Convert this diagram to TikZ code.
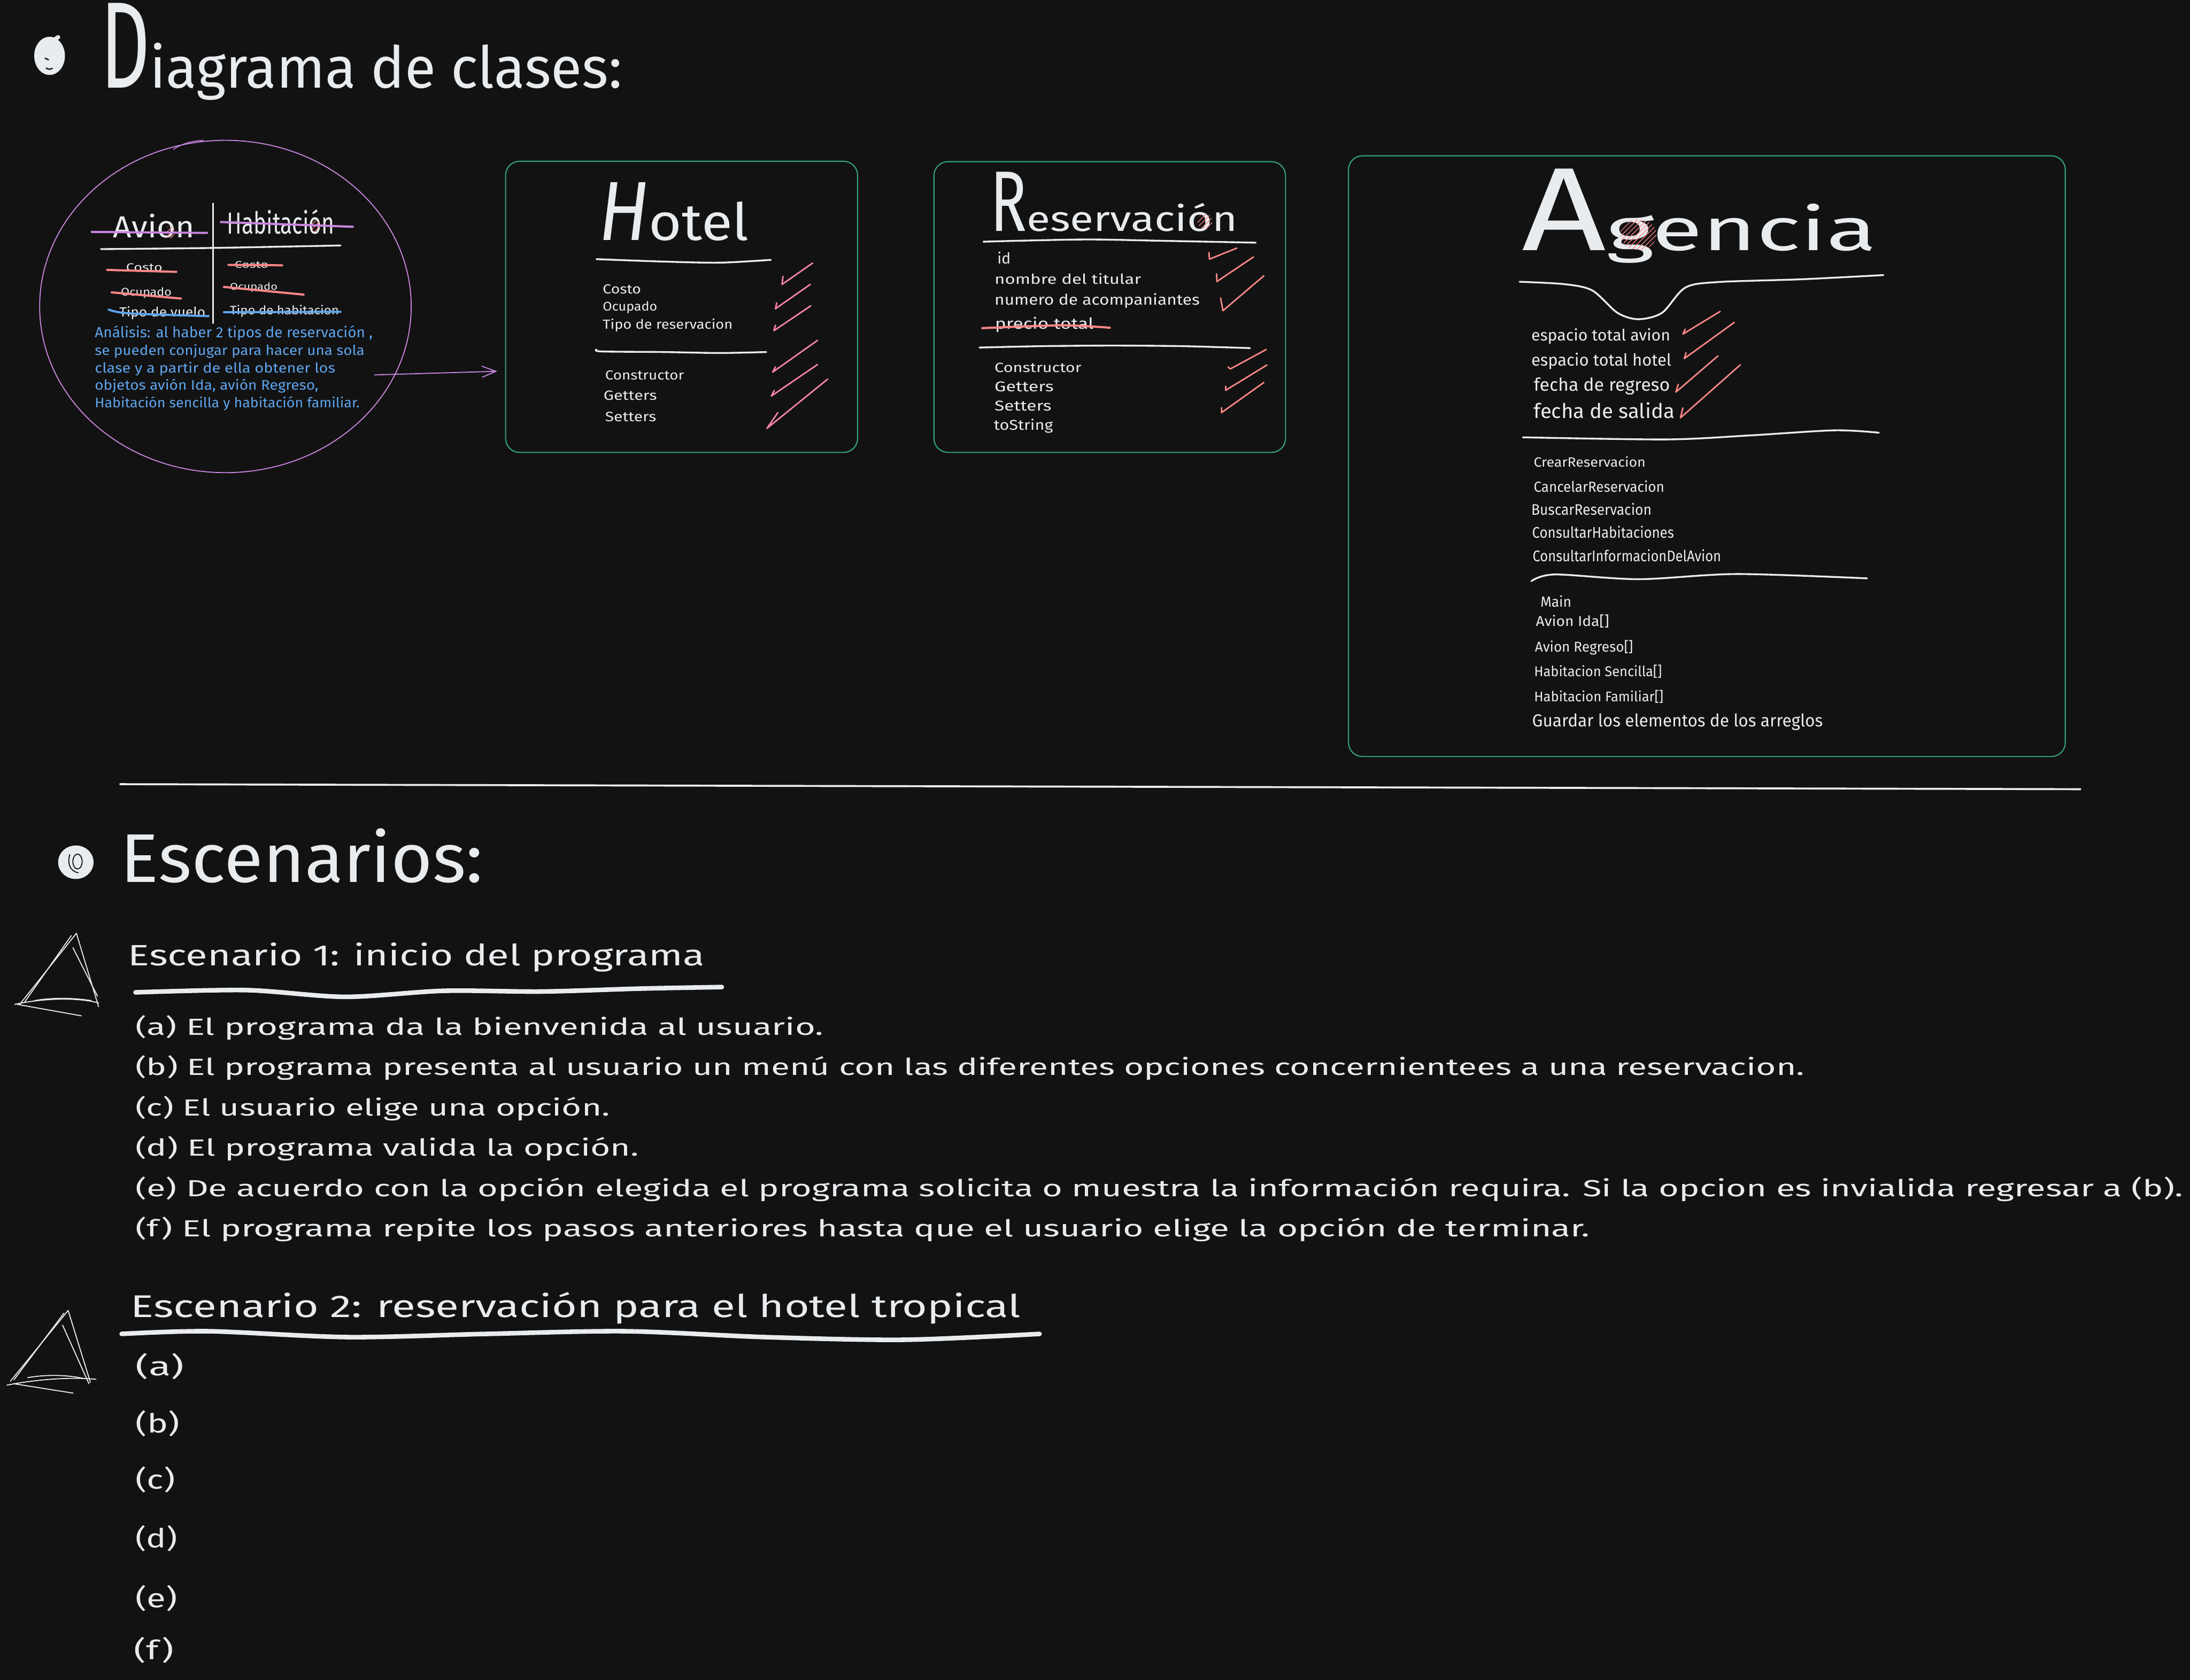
\documentclass[tikz,border=0pt]{standalone}
\usepackage{fontspec}
\setmainfont{Fira Sans}
\usetikzlibrary{shapes.geometric,arrows.meta,patterns}
\definecolor{bg}{HTML}{121212}
\definecolor{fg}{HTML}{E9ECEF}
\definecolor{purp}{HTML}{C986E0}
\definecolor{pinkc}{HTML}{F783AC}
\definecolor{redc}{HTML}{FF8787}
\definecolor{bluec}{HTML}{5EA5EE}
\definecolor{greenc}{HTML}{33A07A}
\newlength\myu
\setlength\myu{0.03cm}
\newcommand{\fitx}[3]{\resizebox{#1\myu}{#2\myu}{\smash{#3}\vphantom{H}}}
\newcommand{\tn}[6]{\node[tx,#1] (#2) at (#3) {\fitx{#4}{#5}{#6}};}
\begin{document}
\begin{tikzpicture}[x=0.03cm,y=-0.03cm,
  tx/.style={anchor=base west,inner sep=0pt,outer sep=0pt,text=fg},
  blu/.style={text=bluec},
  bx/.style={draw=greenc,line width=0.7pt,rounded corners=0.3cm,inner sep=0pt},
  wl/.style={draw=fg,line width=1.1pt,line cap=round,line join=round},
  thk/.style={draw=fg,line width=2.8pt,line cap=round,line join=round},
  tri/.style={draw=fg,line width=0.6pt,line cap=round,line join=round},
  chkp/.style={draw=pinkc,line width=0.9pt,line cap=round,line join=round},
  chkr/.style={draw=redc,line width=0.9pt,line cap=round,line join=round},
  strk/.style={line width=1.3pt,line cap=round},
  hatch/.style={pattern=north east lines,pattern color=redc}]
\fill[bg] (0,0) rectangle (1568,1203);
\useasboundingbox (0,0) rectangle (1568,1203);

% ---------- title ----------
\fill[fg] (35.5,40) ellipse (0.33cm and 0.41cm);
\draw[fg,line width=2.5pt,line cap=round] (33,32) -- (41.7,26.6);
\draw[bg,line width=0.8pt,line cap=round] (32.3,41.7) -- (34.7,42.8);
\draw[bg,line width=0.8pt,line cap=round] (33.1,48.8) .. controls (35,49.8) .. (37.4,49);
\tn{}{title}{72.2,62.9}{373.1}{28.5}{\scalebox{1.35}[2.13]{D}iagrama de clases:}

% ---------- circle ----------
\node[draw=purp,line width=0.6pt,ellipse,minimum width=7.98cm,minimum height=7.14cm,inner sep=0pt] (circ) at (161.4,219.5) {};
\draw[purp,line width=0.5pt] (124,107) .. controls (132,102) and (138,101) .. (146,100.5);
\draw[wl,line width=0.8pt] (152.6,145.6) -- (152.6,231.5);
\draw[wl] plot[smooth] coordinates {(72.3,178.4) (150,177.6) (243.8,175.8)};
\tn{}{avion}{81.1,170}{58.3}{15}{Avion}
\tn{}{habit}{162.5,167.6}{76.9}{15}{Habitación}
\tn{}{cl1}{90.3,194.4}{26}{5.5}{Costo}
\tn{}{cr1}{168,192.1}{24.1}{4.8}{Costo}
\tn{}{cl2}{86.6,211.8}{36.3}{5.5}{Ocupado}
\tn{}{cr2}{164.7,207.8}{34}{4.8}{Ocupado}
\tn{}{cl3}{85.5,226.8}{61.6}{6.5}{Tipo de vuelo}
\tn{}{cr3}{164.7,225.2}{78}{6}{Tipo de habitacion}
\fill[hatch] (121.8,166.1) ellipse (0.1cm and 0.14cm);
\fill[hatch] (226.2,162.1) ellipse (0.1cm and 0.14cm);
\draw[purp,strk] (65.7,166.1) -- (148.2,166.8);
\draw[purp,strk] (158.1,159) -- (252.6,162.4);
\draw[redc,strk] (76.7,193.3) -- (126.2,194.7);
\draw[redc,strk] (163.6,189.7) -- (202,190);
\draw[redc,strk] (80,209.4) -- (129.5,213.8);
\draw[redc,strk] (160.3,205.5) -- (217.4,211);
\draw[bluec,strk] plot[smooth] coordinates {(77.8,221.7) (92.1,224.4) (149.3,226.4)};
\draw[bluec,strk] (160.3,223.6) -- (243.8,223.3);
\tn{blu}{p1}{67.9,241.7}{199}{7.3}{Análisis: al haber 2 tipos de reservación ,}
\tn{blu}{p2}{67.9,254.3}{193.1}{6.8}{se pueden conjugar para hacer una sola}
\tn{blu}{p3}{67.9,267}{172.2}{6.8}{clase y a partir de ella obtener los}
\tn{blu}{p4}{67.9,279.1}{160.1}{6.8}{objetos avión Ida, avión Regreso,}
\tn{blu}{p5}{67.9,291.7}{189.6}{6.8}{Habitación sencilla y habitación familiar.}
\coordinate (arS) at (268,268.5);
\coordinate (arE) at (356,265.9);
\draw[purp,line width=0.6pt,-{Straight Barb[length=0.3cm,width=0.24cm]}] (arS) -- (arE);

% ---------- Hotel ----------
\node[bx,minimum width=7.56cm,minimum height=6.255cm] (hotel) at (488,219.75) {};
\tn{}{hT}{429.1,172}{107.1}{25.4}{\scalebox{1.3}[1.63]{\itshape H}otel}
\draw[wl] plot[smooth] coordinates {(427.1,185.6) (473.9,187.3) (515.4,188.1) (551.9,186.1)};
\tn{}{h1}{431.6,210.4}{27.4}{6.5}{Costo}
\tn{}{h2}{431.6,222.5}{39}{6.2}{Ocupado}
\tn{}{h3}{431.6,235.7}{93}{6.5}{Tipo de reservacion}
\draw[wl] plot[smooth] coordinates {(427.1,250.3) (430.8,251.7) (473.9,252.1) (515.4,252.8) (548.6,252.1)};
\tn{}{h4}{433.3,271.8}{56.4}{6.5}{Constructor}
\tn{}{h5}{432.1,286.4}{38.2}{6.6}{Getters}
\tn{}{h6}{433.3,301.7}{36.5}{6.7}{Setters}
\draw[chkp] (581.8,188.4) -- (559.9,203.7) -- (560.6,197.9);
\draw[chkp] (580.1,203.7) -- (555.2,221.1) -- (556.1,216.9);
\draw[chkp] (580.5,219) -- (554.1,236.8) -- (555.2,232.9);
\draw[chkp] (585.4,243.7) -- (553.2,266.5) -- (555.2,262.8);
\draw[chkp] (585.4,261) -- (552.3,283.6) -- (554.4,279.5);
\draw[chkp] (592.6,271.5) -- (549.1,306.8) -- (556.9,295.5);

% ---------- Reservacion ----------
\node[bx,minimum width=7.551cm,minimum height=6.246cm] (reserv) at (794.55,219.9) {};
\tn{}{rT}{709.1,165.5}{176.8}{17.3}{\scalebox{1.4}[2.45]{R}eservación}
\fill[hatch] (862.6,158.5) ellipse (0.16cm and 0.17cm);
\draw[wl] plot[smooth] coordinates {(704.1,173.1) (729.9,172.4) (779.6,171.5) (829.4,172.4) (899.1,173.8)};
\tn{}{r1}{714.1,189.1}{9.5}{7.5}{id}
\tn{}{r2}{712.1,203.4}{104.9}{6.8}{nombre del titular}
\tn{}{r3}{712.1,218.5}{146.9}{7.3}{numero de acompaniantes}
\tn{}{r4}{712.4,235.5}{70.6}{7.5}{precio total}
\draw[redc,strk] plot[smooth] coordinates {(703.3,235) (760,233) (794.6,234.7)};
\draw[wl] plot[smooth] coordinates {(701.3,248.9) (746.5,247.9) (796.2,247.5) (846,247.9) (895,249.3)};
\tn{}{r5}{712.1,266.5}{62.2}{6.6}{Constructor}
\tn{}{r6}{712.1,280.4}{42.3}{7}{Getters}
\tn{}{r7}{712.1,294.3}{40.7}{7}{Setters}
\tn{}{r8}{711.6,308}{42.3}{7}{toString}
\draw[chkr] (885.5,177.7) -- (865.9,185.6) -- (865.6,180.8);
\draw[chkr] (897.5,184) -- (871.3,201.6) -- (871,196.1);
\draw[chkr] (904.9,197.5) -- (875.6,222.5) -- (873.9,213.4);
\draw[chkr] (906.6,250.3) -- (880.9,264.2) -- (879.2,262.8);
\draw[chkr] (907.1,261.4) -- (877.6,279.5) -- (877.6,276.7);
\draw[chkr] (904.9,273.9) -- (874.6,295.5) -- (874.6,292);

% ---------- Agencia ----------
\node[bx,minimum width=15.396cm,minimum height=12.906cm] (agencia) at (1222.1,326.7) {};
\tn{}{aT}{1089.7,179.3}{253.8}{29.5}{\scalebox{1.6}[1.98]{A}gencia}
\fill[hatch] (1173,168) ellipse (0.39cm and 0.33cm);
\draw[wl] plot[smooth] coordinates {(1088,201.8) (1120,203.5) (1140,208) (1158,224) (1173,228.6) (1190,224) (1206.6,206) (1230,202) (1290,200) (1348.5,197)};
\tn{}{a1}{1096.4,244.1}{99.5}{7.8}{espacio total avion}
\tn{}{a2}{1096.4,261.9}{100.2}{8.2}{espacio total hotel}
\tn{}{a3}{1098.1,280.2}{97.5}{8.8}{fecha de regreso}
\tn{}{a4}{1098.1,299.7}{100.8}{10}{fecha de salida}
\draw[chkr] (1231.6,223) -- (1204.9,239.3) -- (1206.6,235.7);
\draw[chkr] (1241.7,230.9) -- (1205.9,256.8) -- (1207.2,252.6);
\draw[chkr] (1230,254.9) -- (1199.9,280.8) -- (1201.6,275.2);
\draw[chkr] (1246,261.3) -- (1203.2,299.2) -- (1204.9,292.1);
\draw[wl] plot[smooth] coordinates {(1090.4,313.2) (1193.2,314.7) (1253.3,311.8) (1313.4,308.2) (1345.2,309.9)};
\tn{}{a5}{1098.1,334.4}{80.1}{6.6}{CrearReservacion}
\tn{}{a6}{1098.1,352.2}{93.5}{7.2}{CancelarReservacion}
\tn{}{a7}{1096.4,368.8}{86.1}{7.5}{BuscarReservacion}
\tn{}{a8}{1097,385.2}{101.5}{7.6}{ConsultarHabitaciones}
\tn{}{a9}{1097.4,402.1}{134.9}{7.6}{ConsultarInformacionDelAvion}
\draw[wl] plot[smooth] coordinates {(1096.4,416.2) (1113.1,411.4) (1173.2,414.8) (1243.3,411.1) (1336.8,414.2)};
\tn{}{a10}{1103,434.6}{22.1}{7.2}{Main}
\tn{}{a11}{1099.7,448.6}{52.4}{7}{Avion Ida[]}
\tn{}{a12}{1099,467}{70.2}{7}{Avion Regreso[]}
\tn{}{a13}{1098.4,484.5}{91.5}{7}{Habitacion Sencilla[]}
\tn{}{a14}{1098.4,502.3}{92.5}{6.9}{Habitacion Familiar[]}
\tn{}{a15}{1097,520.6}{208.1}{8.6}{Guardar los elementos de los arreglos}

% ---------- separator ----------
\draw[wl,line width=1.2pt] (86,561.6) -- (1489.5,565.2);

% ---------- Escenarios ----------
\fill[fg] (54.3,617.5) ellipse (0.38cm and 0.36cm);
\draw[bg,line width=0.6pt] (55.5,617) ellipse (0.1cm and 0.16cm);
\draw[bg,line width=0.6pt,line cap=round] (50,612) .. controls (48,618) and (50,624) .. (56,625);
\tn{}{escT}{86.4,632}{259.3}{34}{Escenarios:}

% triangle 1
\draw[tri] (54.7,668.4) -- (14.1,719.3);
\draw[tri] (51.1,670) -- (17.6,717.7);
\draw[tri] (54.7,668.4) -- (70.6,721);
\draw[tri] (52.2,678.7) -- (69.8,713.4);
\draw[tri] (10.6,719.3) .. controls (30,715) and (55,714) .. (70.6,718.3);
\draw[tri] (24.7,716.6) .. controls (40,714) and (55,715) .. (65.3,716.6);
\draw[tri] (12.3,719.3) -- (58.2,727.5);
\tn{}{s1T}{91.7,691.7}{412.7}{14.5}{Escenario 1: inicio del programa}
\draw[thk] plot[smooth] coordinates {(97,710.7) (176.4,709.1) (246.9,713.9) (317.5,709.6) (388,710.1) (458.6,708) (516.8,706.9)};
\tn{}{s1a}{96.9,741.3}{492.8}{11.5}{(a) El programa da la bienvenida al usuario.}
\tn{}{s1b}{96.9,770.2}{1195}{11.5}{(b) El programa presenta al usuario un menú con las diferentes opciones concernientees a una reservacion.}
\tn{}{s1c}{96.9,799.1}{339.7}{11.5}{(c) El usuario elige una opción.}
\tn{}{s1d}{96.9,828}{360.5}{11.5}{(d) El programa valida la opción.}
\tn{}{s1e}{96.9,856.9}{1466}{11.5}{(e) De acuerdo con la opción elegida el programa solicita o muestra la información requira. Si la opcion es invialida regresar a (b).}
\tn{}{s1f}{96.9,885.8}{1041.2}{11.5}{(f) El programa repite los pasos anteriores hasta que el usuario elige la opción de terminar.}

% triangle 2
\draw[tri] (48.8,938.5) -- (7.5,989.1);
\draw[tri] (45.8,940.4) -- (10,988.2);
\draw[tri] (48.8,938.5) -- (64.7,990);
\draw[tri] (44.8,949) -- (63.7,991);
\draw[tri] (5,992) .. controls (25,988) and (50,986) .. (68.7,987.8);
\draw[tri] (19.9,986.6) .. controls (35,984) and (50,985) .. (59.7,987.2);
\draw[tri] (10,991) -- (52.3,997.7);
\tn{}{s2T}{93.6,943.3}{637.2}{15.5}{Escenario 2: reservación para el hotel tropical}
\draw[thk] plot[smooth] coordinates {(87.1,955.3) (149.4,953.4) (248.9,957.6) (348.5,955.3) (448,953.4) (547.6,957.6) (647.2,959.5) (744.3,955.3)};
\tn{}{s2a}{97.1,985.3}{34.8}{13}{(a)}
\tn{}{s2b}{97.1,1026.3}{31.4}{13}{(b)}
\tn{}{s2c}{97.1,1066.4}{28.4}{13}{(c)}
\tn{}{s2d}{97.1,1108.4}{29.9}{13}{(d)}
\tn{}{s2e}{97.1,1151.3}{29.9}{13}{(e)}
\tn{}{s2f}{96,1188.5}{28.4}{13}{(f)}
\end{tikzpicture}
\end{document}
